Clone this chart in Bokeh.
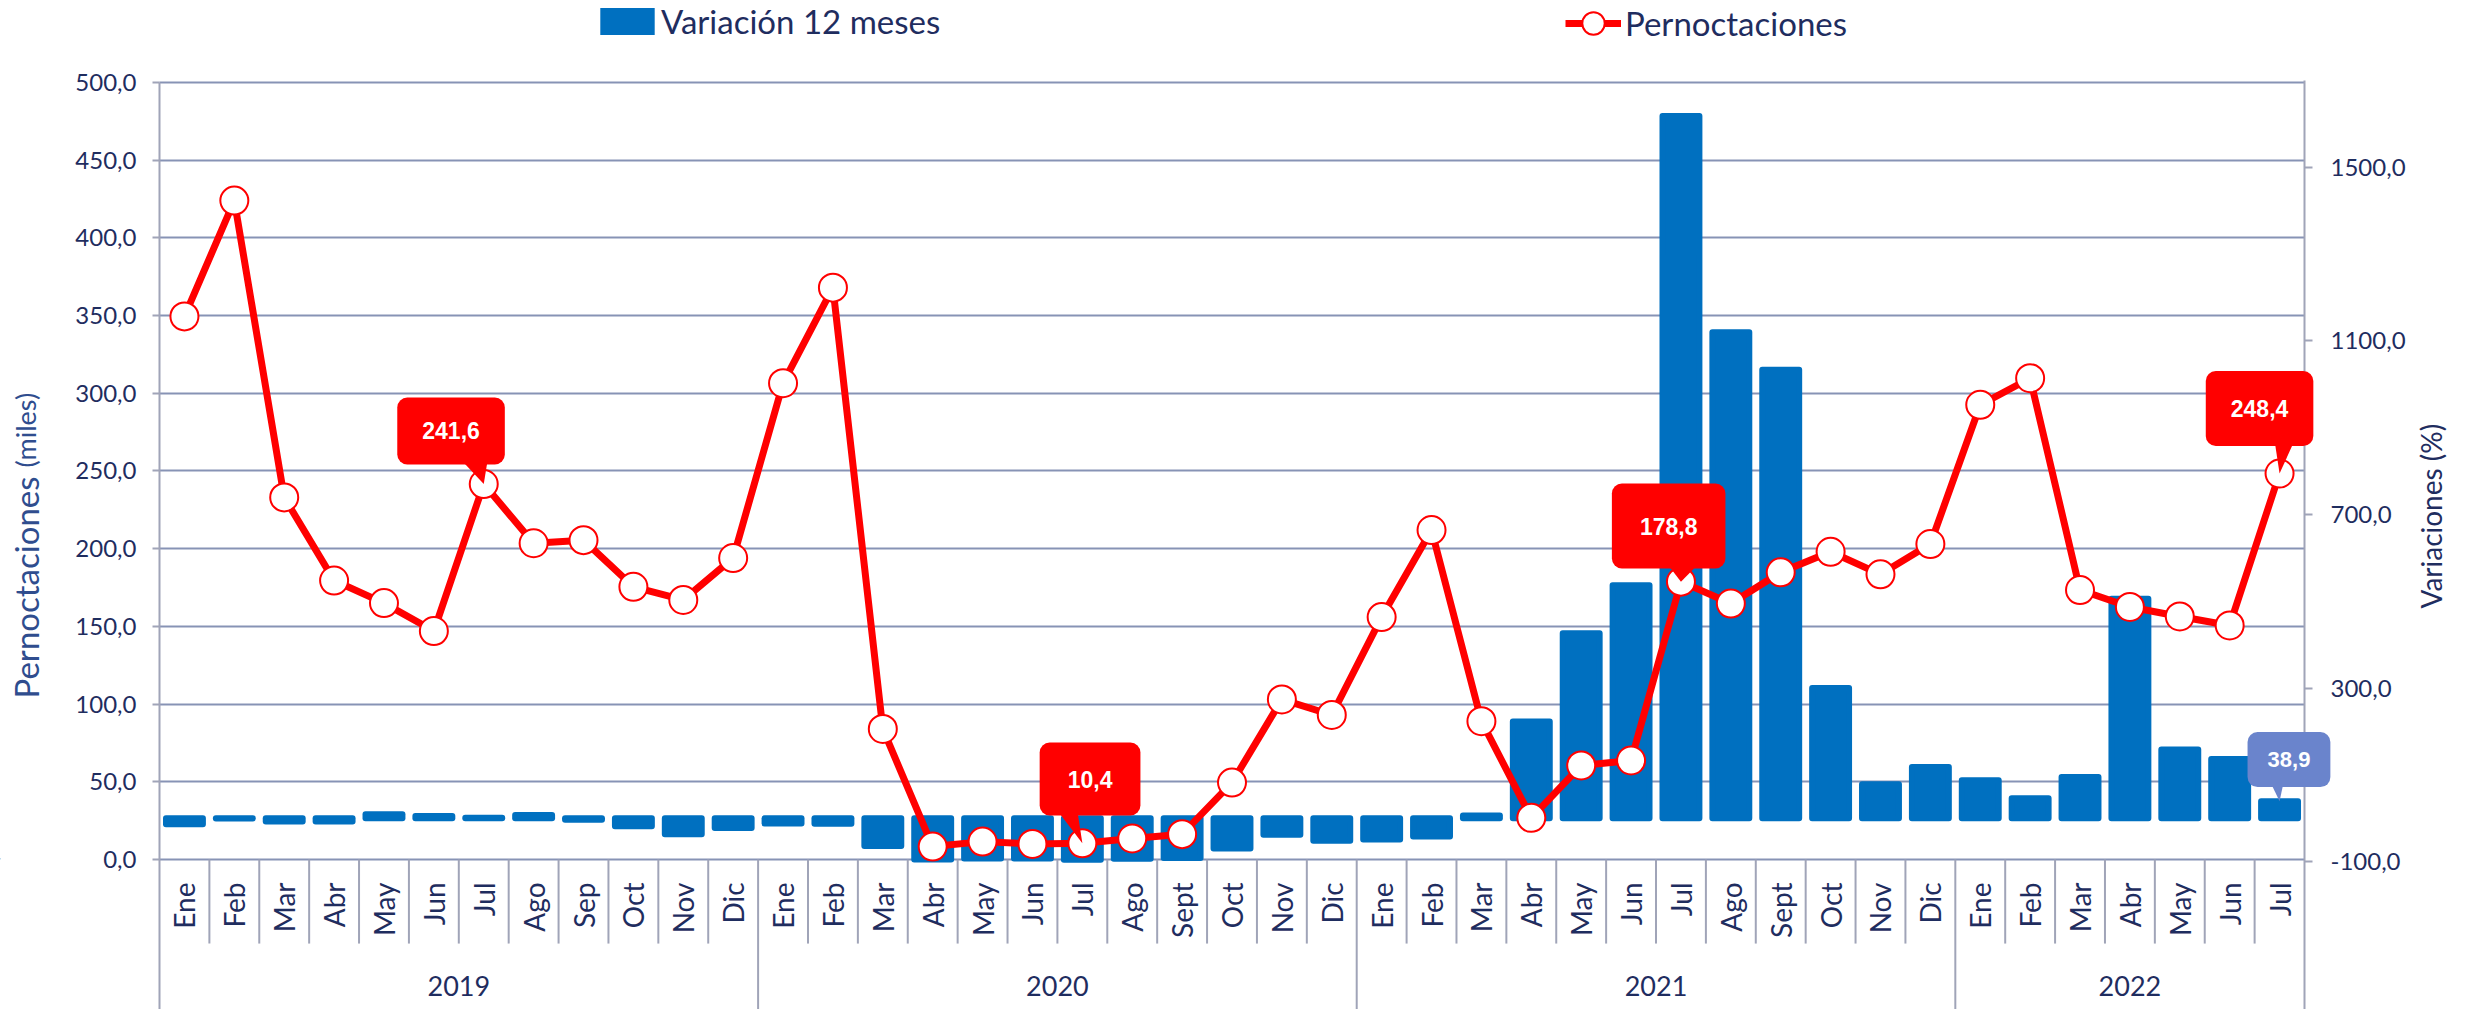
import numpy as np
from bokeh.plotting import figure
from bokeh.models import Range1d, LinearAxis, FixedTicker, Label, Legend, LegendItem
from bokeh.core.properties import value
from bokeh.embed import file_html
from bokeh.resources import INLINE

# ---------------- data ----------------
years = ["2019", "2020", "2021", "2022"]
months_per_year = [12, 12, 12, 7]
month_labels = ["Ene", "Feb", "Mar", "Abr", "May", "Jun", "Jul", "Ago", "Sep", "Oct", "Nov", "Dic",
                "Ene", "Feb", "Mar", "Abr", "May", "Jun", "Jul", "Ago", "Sept", "Oct", "Nov", "Dic",
                "Ene", "Feb", "Mar", "Abr", "May", "Jun", "Jul", "Ago", "Sept", "Oct", "Nov", "Dic",
                "Ene", "Feb", "Mar", "Abr", "May", "Jun", "Jul"]
pernoctaciones = [349.5, 424.0, 233.0, 179.5, 165.0, 147.0, 241.6, 203.5, 205.5, 175.5, 167.0, 194.0,
                  306.5, 368.0, 84.0, 8.3, 11.5, 10.0, 10.4, 13.5, 16.3, 49.5, 103.0, 93.0,
                  156.0, 212.0, 89.0, 26.8, 60.5, 63.7, 178.8, 164.7, 184.8, 198.0, 183.5, 203.0,
                  292.6, 309.7, 173.4, 162.5, 156.4, 150.6, 248.4]
variacion = [-14.0, -1.0, -8.0, -8.0, 9.0, 5.0, 1.0, 7.0, -4.0, -19.0, -37.0, -23.0,
             -12.3, -13.2, -64.0, -95.4, -93.0, -93.2, -95.7, -93.4, -92.1, -70.0, -38.3, -52.1,
             -49.1, -42.4, 6.0, 223.0, 426.0, 537.0, 1619.0, 1120.0, 1034.0, 300.0, 78.0, 118.0,
             87.6, 46.1, 94.8, 506.0, 158.5, 136.4, 38.9]
left_ticks = [0, 50, 100, 150, 200, 250, 300, 350, 400, 450, 500]
left_tick_labels = ["0,0", "50,0", "100,0", "150,0", "200,0", "250,0", "300,0", "350,0", "400,0", "450,0", "500,0"]
right_ticks = [-100, 300, 700, 1100, 1500]
right_tick_labels = ["-100,0", "300,0", "700,0", "1100,0", "1500,0"]
line_callout_idx = [6, 18, 30, 42]     # highlighted Pernoctaciones points
bar_callout_idx = [42]                 # highlighted Variación bar

# ---------------- styling / layout ----------------
NAVY = "#1F2D5F"
TITLE = "#2F4D8E"
BLUE = "#0070C0"
RED = "#FF0000"
LAV = "#6A84CC"
GRID = "#8793B5"
AXIS = "#A0A4B8"

W, H = 2471, 1009
PL, PR = 159, 2304            # pixel positions of the category span
n = len(month_labels)
px_x = (PR - PL) / n
X0, X1 = -PL / px_x, n + (W - PR) / px_x
L0, L1 = -96.53, 552.77
R0, R1 = -441.2, 1885.0
px_l = H / (L1 - L0)
px_r = H / (R1 - R0)

p = figure(width=W, height=H, x_range=Range1d(X0, X1), y_range=Range1d(L0, L1),
           x_axis_location=None, output_backend="svg", toolbar_location=None,
           min_border_left=0, min_border_right=0, min_border_top=0, min_border_bottom=0,
           outline_line_color=None, background_fill_color="white")
p.extra_y_ranges = {"right": Range1d(R0, R1)}

p.xgrid.visible = False
p.ygrid.ticker = FixedTicker(ticks=left_ticks)
p.ygrid.grid_line_color = GRID
p.ygrid.grid_line_width = 2
try:
    p.ygrid.cross_bounds = (0, n)
except Exception:
    p.ygrid.visible = False
    p.segment(x0=[0] * len(left_ticks), y0=left_ticks, x1=[n] * len(left_ticks), y1=left_ticks,
              line_color=GRID, line_width=2, level="underlay")

left = p.left[0]
left.fixed_location = 0
left.ticker = FixedTicker(ticks=left_ticks)
left.bounds = (L0, 500)
left.major_label_overrides = {t: s for t, s in zip(left_ticks, left_tick_labels)}

right = LinearAxis(y_range_name="right", ticker=FixedTicker(ticks=right_ticks), bounds=(R0, 1700),
                   fixed_location=n)
right.major_label_overrides = {t: s for t, s in zip(right_ticks, right_tick_labels)}
p.add_layout(right, "right")

for ax, so, to in ((left, 16, 7), (right, 18, 8)):
    ax.axis_line_color = AXIS
    ax.axis_line_width = 2
    ax.major_tick_line_color = AXIS
    ax.major_tick_line_width = 2
    ax.major_tick_in = 0
    ax.major_tick_out = to
    ax.minor_tick_line_color = None
    ax.major_label_standoff = so
    ax.major_label_text_font = "Lato"
    ax.major_label_text_font_size = "24px"
    ax.major_label_text_color = NAVY

xc = [i + 0.5 for i in range(n)]

# bars
bars = p.vbar(x=xc, top=variacion, bottom=0, width=0.74, y_range_name="right",
              fill_color=BLUE, line_color=BLUE, line_width=6, line_join="round")

# line + markers
line_r = p.line(xc, pernoctaciones, line_color=RED, line_width=7, line_join="round")
mark_r = p.scatter(xc, pernoctaciones, size=28, fill_color="white", line_color=RED, line_width=2)

# category axis (drawn below the zero line)
sep_month = [b for b in range(1, n) if b not in (12, 24, 36)]
p.segment(x0=sep_month, y0=[0] * len(sep_month), x1=sep_month, y1=[-54.1] * len(sep_month),
          line_color=AXIS, line_width=2)
yb = [12, 24, 36]
p.segment(x0=yb, y0=[0] * 3, x1=yb, y1=[L0] * 3, line_color=AXIS, line_width=2)
p.text(x=xc, y=[-14.8] * n, text=month_labels, angle=np.pi / 2, text_align="right",
       text_baseline="middle", text_font=value("Lato"), text_font_size="28px", text_color=NAVY)
starts = np.cumsum([0] + months_per_year[:-1])
ycent = [s + m / 2 for s, m in zip(starts, months_per_year)]
p.text(x=ycent, y=[-81.1] * len(years), text=years, text_align="center", text_baseline="middle",
       text_font=value("Lato"), text_font_size="27px", text_color=NAVY)

# callouts
def fmt(v):
    return f"{v:.1f}".replace(".", ",")

line_style = {  # dx, up, pad_h, pad_v, base_up, bx0, bx1
    6: (-32.7, 53.1, 25, 25, 21.6, -23, 4),
    18: (7.7, 64.3, 28, 28, 29.8, -25, -5),
    30: (-12.3, 55.6, 28, 34, 15.1, -14, 18),
    42: (-20.0, 65.0, 25, 29, 30.0, -5, 15),
}
bar_style = {42: (9.4, 41.7, 20, 20, 15.7, -9, 4)}

def callout(i, yv, text, color, rng, py, st, fs):
    dx, up, ph, pv, bu, b0, b1 = st
    tx = i + 0.5
    by = yv + (bu + 3) / py
    kw = {} if rng is None else {"y_range_name": rng}
    p.patch(x=[tx + b0 / px_x, tx + b1 / px_x, tx], y=[by, by, yv], fill_color=color,
            line_color=None, **kw)
    lab = Label(x=tx, y=yv, x_offset=dx, y_offset=up, text=text, text_font="Liberation Sans",
                text_font_style="bold", text_font_size=fs, text_color="white", text_align="center",
                text_baseline="middle", background_fill_color=color, border_line_color=None,
                border_radius=10, padding=dict(left=ph, right=ph, top=pv, bottom=pv), **kw)
    p.add_layout(lab)

for i in line_callout_idx:
    callout(i, pernoctaciones[i], fmt(pernoctaciones[i]), RED, None, px_l, line_style[i], "23px")
for i in bar_callout_idx:
    callout(i, variacion[i], fmt(variacion[i]), LAV, "right", px_r, bar_style[i], "22px")

# axis titles
p.add_layout(Label(x=25, y=311, x_units="screen", y_units="screen", text="Pernoctaciones",
                   angle=np.pi / 2, text_align="left", text_baseline="alphabetic",
                   text_font="Lato", text_font_size="33px", text_color=TITLE))
p.add_layout(Label(x=25, y=542, x_units="screen", y_units="screen", text="(miles)",
                   angle=np.pi / 2, text_align="left", text_baseline="alphabetic",
                   text_font="Lato", text_font_size="27px", text_color=TITLE))
p.add_layout(Label(x=2430, y=401, x_units="screen", y_units="screen", text="Variaciones (%)",
                   angle=np.pi / 2, text_align="left", text_baseline="alphabetic",
                   text_font="Lato", text_font_size="28px", text_color=NAVY))

# legends
leg_bar = p.vbar(x=[-50], top=[1], width=0.7, fill_color=BLUE, line_color=None)
lg1 = Legend(items=[LegendItem(label="Variación 12 meses", renderers=[leg_bar])],
             location=(593, 968), orientation="horizontal", glyph_width=68, glyph_height=34,
             label_standoff=0, padding=0, margin=0, spacing=0, border_line_color=None,
             background_fill_alpha=0, label_text_font="Lato", label_text_font_size="33px",
             label_text_color=NAVY, label_height=34)
lg2 = Legend(items=[LegendItem(label="Pernoctaciones", renderers=[line_r, mark_r])],
             location=(1565, 958), orientation="horizontal", glyph_width=56, glyph_height=56,
             label_standoff=4, padding=0, margin=0, spacing=0, border_line_color=None,
             background_fill_alpha=0, label_text_font="Lato", label_text_font_size="33px",
             label_text_color=NAVY, label_height=56)
p.add_layout(lg1)
p.add_layout(lg2)

open("out.html", "w").write(file_html(p, INLINE))
